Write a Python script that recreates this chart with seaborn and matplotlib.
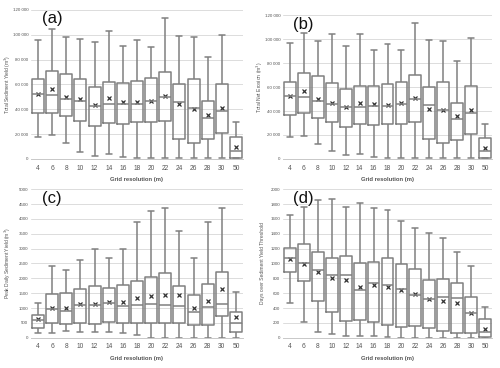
import numpy as np
import pandas as pd
import matplotlib
matplotlib.use("Agg")
import matplotlib.pyplot as plt
from matplotlib.ticker import FuncFormatter, MultipleLocator
import seaborn as sns

resolutions = ["4", "6", "8", "10", "12", "14", "16", "18", "20", "22", "24", "26", "28", "30", "50"]

# (a) Total sediment yield, in thousands of m3
a_low = [18, 19, 12.5, 6, 2.5, 4, 1.5, 0.5, 0.5, 0.5, 0.5, 0.5, 0.5, 0.5, 0.5]
a_q1 = [37, 37, 34.5, 30.5, 26.5, 29, 28.5, 29.5, 29.5, 30.5, 16, 12.5, 16, 21, 1]
a_med = [52, 51.5, 48, 46.5, 43, 44.5, 44, 44, 47, 50, 46, 41, 33, 38.5, 6.5]
a_q3 = [64, 71, 68.5, 64, 58, 62, 61, 62.5, 65, 70, 60.5, 64, 46.5, 60.5, 17.5]
a_high = [96, 105, 98, 97, 94, 103, 91, 96, 90.5, 113.5, 99, 98.5, 82, 100, 29.5]
a_mean = [52.5, 56, 50, 48.5, 43.5, 49, 46, 45.5, 47, 50.5, 44, 40.5, 35.5, 41, 9.5]

# (b) Total net erosion, in thousands of m3
b_low = [18, 19.5, 12.5, 6.5, 3, 4, 1.5, 0.5, 0.5, 0.5, 0.5, 0.5, 0.5, 0.5, 0.5]
b_q1 = [37, 38, 34.5, 30.5, 26.5, 29, 28.5, 29.5, 29.5, 30.5, 16.5, 13, 16, 21, 1]
b_med = [52.5, 52, 48.5, 45.5, 43.5, 43.5, 44, 44, 46, 50, 45, 41, 33, 38.5, 7]
b_q3 = [64.5, 71.5, 69, 63.5, 58, 61, 61, 62.5, 64.5, 70, 60, 64, 46.5, 60.5, 17.5]
b_high = [96.5, 105, 98, 104, 94.5, 104, 91, 96, 90.5, 113.5, 99, 98.5, 82, 100.5, 29.5]
b_mean = [52.5, 56.5, 50, 47, 43.5, 47, 46, 45, 47, 50.5, 41.5, 40.5, 35.5, 41, 9.5]

# (c) Peak daily sediment yield, m3
c_low = [150, 170, 220, 200, 200, 180, 170, 100, 0, 0, 0, 0, 0, 0, 0]
c_q1 = [340, 510, 450, 490, 450, 520, 490, 510, 510, 490, 490, 430, 430, 730, 210]
c_med = [610, 960, 890, 1100, 1120, 1180, 1060, 1100, 1130, 1110, 1070, 870, 1030, 1150, 500]
c_q3 = [780, 1460, 1510, 1640, 1750, 1660, 1790, 1920, 2060, 2180, 1730, 1450, 1810, 2230, 870]
c_high = [1180, 2400, 2290, 2620, 2980, 2700, 3000, 3900, 4250, 4380, 3580, 2700, 3880, 4360, 1550]
c_mean = [630, 990, 1000, 1130, 1150, 1190, 1220, 1340, 1390, 1430, 1440, 1010, 1250, 1640, 700]

# (d) Days over sediment yield threshold
d_low = [470, 210, 80, 50, 30, 30, 20, 10, 0, 0, 0, 0, 0, 0, 0]
d_q1 = [890, 760, 490, 350, 220, 240, 210, 170, 140, 160, 130, 90, 60, 60, 10]
d_med = [1070, 1000, 910, 840, 850, 650, 740, 710, 660, 580, 520, 550, 530, 340, 80]
d_q3 = [1210, 1260, 1150, 1080, 1100, 1010, 1020, 1070, 990, 920, 780, 790, 740, 550, 250]
d_high = [1650, 1760, 1850, 1870, 1760, 1810, 1740, 1720, 1570, 1480, 1410, 1340, 1150, 960, 420]
d_mean = [1060, 990, 880, 800, 780, 690, 710, 690, 640, 590, 520, 500, 470, 340, 120]

EDGE = "#808080"
GRID = "#dcdcdc"
TEXT = "#555555"


def build_frame(low, q1, med, q3, high, scale=1.0):
    # five points per resolution -> linear percentiles hit q1/median/q3 exactly
    rows = []
    for i, res in enumerate(resolutions):
        for v in (low[i], q1[i], med[i], q3[i], high[i]):
            rows.append({"res": res, "value": v * scale})
    return pd.DataFrame(rows)


def space_thousands(v, pos):
    return f"{int(round(v)):,}".replace(",", " ")


def draw_panel(ax, frame, means, letter, ylabel, ymax, step, formatter=None):
    sns.boxplot(data=frame, x="res", y="value", order=resolutions, ax=ax,
                whis=(0, 100), width=0.85, fill=False, color=EDGE, linewidth=1.1,
                showfliers=False)
    mean_df = pd.DataFrame({"res": resolutions, "mean": means})
    sns.pointplot(data=mean_df, x="res", y="mean", order=resolutions, ax=ax,
                  linestyle="none", markers="x", color="#333333", errorbar=None,
                  markersize=3.5, markeredgewidth=0.9)
    ax.set_ylim(0, ymax)
    ax.yaxis.set_major_locator(MultipleLocator(step))
    if formatter is not None:
        ax.yaxis.set_major_formatter(FuncFormatter(formatter))
    ax.grid(axis="y", color=GRID, linewidth=0.7)
    ax.grid(axis="x", visible=False)
    ax.set_axisbelow(True)
    for side in ("top", "right", "left"):
        ax.spines[side].set_visible(False)
    ax.spines["bottom"].set_color("#c8c8c8")
    ax.spines["bottom"].set_linewidth(0.7)
    ax.tick_params(axis="y", length=0, labelsize=3.2, colors=TEXT, pad=2)
    ax.tick_params(axis="x", length=0, labelsize=4.8, colors=TEXT, pad=4)
    ax.set_xlabel("Grid resolution (m)", fontsize=4.2, fontweight="bold", color=TEXT, labelpad=4)
    ax.set_ylabel(ylabel, fontsize=3.6, color=TEXT)
    ax.yaxis.set_label_coords(-0.085, 0.5)
    ax.text(0.05, 0.99, letter, transform=ax.transAxes, ha="left", va="top",
            fontsize=12, color="#111111", family=["Liberation Sans", "DejaVu Sans"])


sns.set_style("white")
plt.rcParams["font.family"] = ["Liberation Sans Narrow", "Liberation Sans", "DejaVu Sans"]

fig = plt.figure(figsize=(5.0, 3.68), dpi=100)
ax_a = fig.add_axes([0.062, 0.568, 0.424, 0.405])
ax_b = fig.add_axes([0.566, 0.568, 0.418, 0.391])
ax_c = fig.add_axes([0.062, 0.082, 0.424, 0.404])
ax_d = fig.add_axes([0.566, 0.082, 0.418, 0.404])

draw_panel(ax_a, build_frame(a_low, a_q1, a_med, a_q3, a_high, 1000),
           [m * 1000 for m in a_mean], "(a)", "Total Sediment Yield (m$^3$)",
           120000, 20000, space_thousands)
draw_panel(ax_b, build_frame(b_low, b_q1, b_med, b_q3, b_high, 1000),
           [m * 1000 for m in b_mean], "(b)", "Total Net Erosion (m$^3$)",
           120000, 20000, space_thousands)
draw_panel(ax_c, build_frame(c_low, c_q1, c_med, c_q3, c_high),
           c_mean, "(c)", "Peak Daily Sediment Yield (m$^3$)", 5000, 500)
draw_panel(ax_d, build_frame(d_low, d_q1, d_med, d_q3, d_high),
           d_mean, "(d)", "Days over Sediment Yield Threshold", 2000, 200)

fig.savefig("out.png", dpi=100)
